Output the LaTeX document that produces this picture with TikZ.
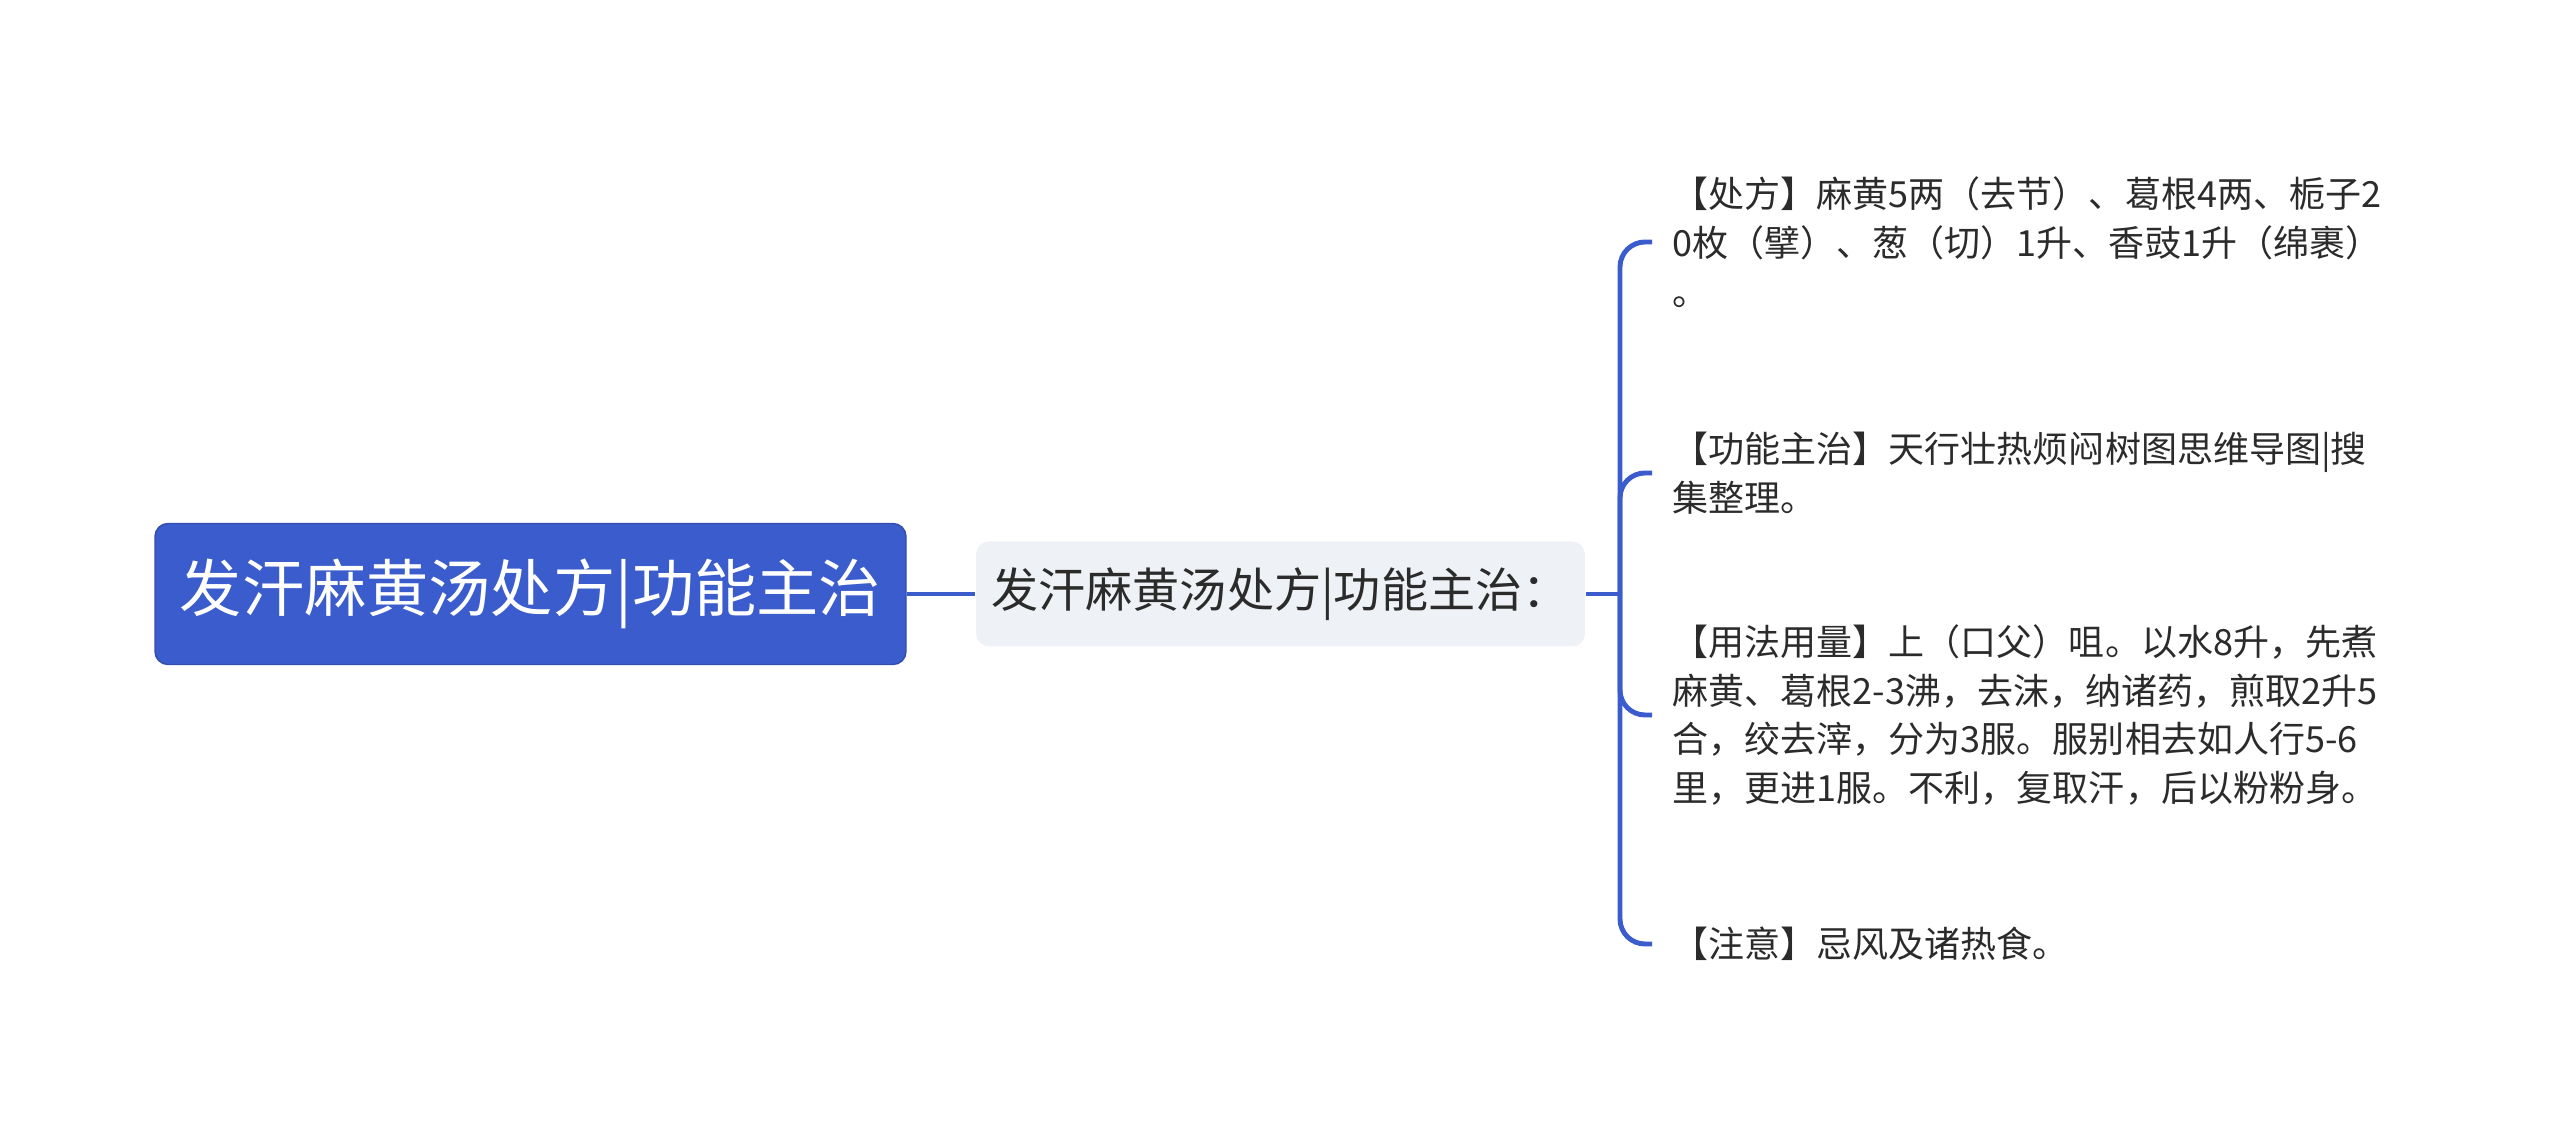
\documentclass[tikz,border=0pt]{standalone}
\usepackage{fontspec}
\newfontfamily\cjk{Noto Sans CJK SC}
\usetikzlibrary{positioning}
\definecolor{mapblue}{HTML}{3B5CCC}
\definecolor{boxgray}{HTML}{EEF1F5}
\definecolor{txtdark}{HTML}{2B2B2B}

\begin{document}
\begin{tikzpicture}[
    rootbox/.style={draw=mapblue!85!black, fill=mapblue, rounded corners=0.13cm, text=white,
        minimum width=7.51cm, minimum height=1.41cm, font=\cjk\fontsize{17.7}{21}\selectfont},
    subbox/.style={fill=boxgray, rounded corners=0.13cm, text=txtdark,
        minimum width=6.09cm, minimum height=1.05cm, font=\cjk\fontsize{13.4}{16}\selectfont},
    leafbox/.style={anchor=west, align=left, inner xsep=0.2cm, inner ysep=0, text=txtdark,
        font=\cjk\fontsize{10.25}{13.9}\selectfont},
    branch/.style={draw=mapblue, line width=1.4pt, rounded corners=0.25cm}
]
    \useasboundingbox (0,0) rectangle (25.6,11.43);

    \coordinate (hub) at (16.2,5.49);

    \node[rootbox] (root) at (5.305,5.49) {发汗麻黄汤处方|功能主治};
    \node[subbox] (sub) at (12.805,5.49) {发汗麻黄汤处方|功能主治：};

    \node[leafbox] (chufang) at (16.52,9.01) {【处方】麻黄5两（去节）、葛根4两、栀子2\\0枚（擘）、葱（切）1升、香豉1升（绵裹）\\。};
    \node[leafbox] (gongneng) at (16.52,6.70) {【功能主治】天行壮热烦闷树图思维导图|搜\\集整理。};
    \node[leafbox] (yongfa) at (16.52,4.28) {【用法用量】上（口父）咀。以水8升，先煮\\麻黄、葛根2-3沸，去沫，纳诸药，煎取2升5\\合，绞去滓，分为3服。服别相去如人行5-6\\里，更进1服。不利，复取汗，后以粉粉身。};
    \node[leafbox] (zhuyi) at (16.52,1.99) {【注意】忌风及诸热食。};

    \draw[branch] (root.east) -- (sub.west);
    \draw[branch] (sub.east) -- (hub);
    \draw[branch] (hub) |- (chufang.west);
    \draw[branch] (hub) |- (gongneng.west);
    \draw[branch] (hub) |- (yongfa.west);
    \draw[branch] (hub) |- (zhuyi.west);

\end{tikzpicture}
\end{document}
